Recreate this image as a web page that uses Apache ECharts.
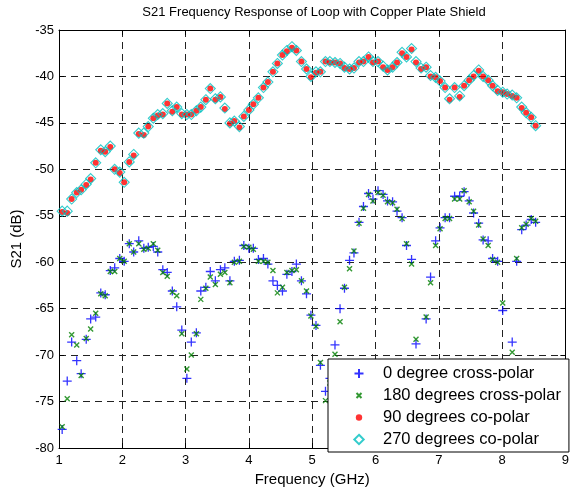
<!DOCTYPE html>
<html>
<head>
<meta charset="utf-8">
<script src="https://cdn.jsdelivr.net/npm/echarts@6/dist/echarts.min.js"></script>
<style>
html,body{margin:0;padding:0;background:#fff;}
#chart{width:572px;height:492px;}
</style>
</head>
<body>
<div id="chart"></div>
<script>
const freqGHz = [
1.05,1.13,1.20,1.28,1.35,1.43,1.50,1.58,1.66,1.73,
1.81,1.88,1.96,2.03,2.11,2.18,2.26,2.34,2.41,2.49,
2.56,2.64,2.71,2.79,2.86,2.94,3.02,3.09,3.17,3.24,
3.32,3.39,3.47,3.55,3.62,3.70,3.77,3.85,3.92,4.00,
4.07,4.15,4.23,4.30,4.38,4.45,4.53,4.60,4.68,4.75,
4.83,4.91,4.98,5.06,5.13,5.21,5.28,5.36,5.44,5.51,
5.59,5.66,5.74,5.81,5.89,5.96,6.04,6.12,6.19,6.27,
6.34,6.42,6.49,6.57,6.64,6.72,6.80,6.87,6.95,7.02,
7.10,7.17,7.25,7.33,7.40,7.48,7.55,7.63,7.70,7.78,
7.85,7.93,8.01,8.08,8.16,8.23,8.31,8.38,8.46,8.53
];
const cross0deg = [
-78.0,-72.8,-68.6,-70.6,-72.0,-68.3,-66.1,-65.9,-63.3,-63.5,
-60.9,-60.6,-59.6,-59.9,-58.0,-58.9,-57.7,-58.5,-58.4,-58.3,
-58.9,-60.8,-61.1,-63.1,-64.8,-67.3,-72.5,-68.6,-67.6,-63.1,
-62.7,-61.0,-62.0,-60.8,-60.6,-62.0,-59.9,-59.8,-58.2,-58.5,
-58.5,-59.7,-59.6,-60.2,-62.0,-62.5,-63.1,-61.3,-61.0,-60.2,
-62.0,-63.4,-65.7,-66.8,-71.1,-73.9,-72.5,-68.9,-65.0,-62.8,
-59.8,-59.0,-55.7,-54.0,-52.6,-53.2,-52.3,-52.7,-53.4,-53.5,
-54.5,-55.2,-58.2,-59.7,-68.8,-72.0,-66.1,-61.6,-57.7,-56.3,
-55.2,-55.2,-52.9,-52.9,-52.4,-53.4,-54.7,-55.8,-57.6,-57.7,
-59.6,-59.9,-65.2,-72.0,-68.6,-59.9,-56.5,-56.0,-55.4,-55.7
];
const cross180deg = [
-77.7,-74.7,-67.8,-68.9,-72.2,-68.2,-67.2,-65.5,-63.4,-63.6,
-61.0,-61.0,-59.6,-59.9,-58.0,-58.9,-58.0,-58.6,-58.5,-58.0,
-58.7,-61.1,-61.5,-63.2,-63.6,-67.7,-71.5,-70.0,-67.7,-64.0,
-62.8,-61.6,-62.4,-61.3,-61.1,-62.2,-60.0,-59.9,-58.3,-58.4,
-58.6,-59.9,-59.9,-60.0,-60.9,-63.3,-62.7,-61.1,-60.9,-60.8,
-62.0,-63.1,-65.8,-66.9,-70.8,-74.9,-73.0,-69.9,-66.4,-62.7,
-60.7,-58.8,-55.8,-54.2,-52.7,-53.4,-52.5,-52.8,-53.5,-53.6,
-54.3,-55.3,-58.0,-60.2,-68.3,-72.5,-65.9,-62.2,-58.2,-56.4,
-55.3,-55.3,-53.2,-53.2,-52.3,-53.5,-54.5,-56.0,-57.5,-58.2,
-59.7,-60.0,-64.4,-72.5,-69.7,-59.6,-56.3,-55.9,-55.3,-55.6
];
const co90deg = [
-54.6,-54.7,-53.2,-52.5,-52.2,-51.7,-51.1,-49.3,-48.0,-48.1,
-47.6,-50.0,-50.4,-51.4,-49.2,-48.5,-46.2,-46.3,-45.4,-44.5,
-44.2,-44.1,-42.9,-43.8,-43.3,-44.1,-44.1,-44.1,-43.7,-43.3,
-42.5,-41.3,-42.5,-42.2,-43.5,-45.1,-44.8,-45.5,-44.3,-43.6,
-43.0,-42.3,-41.2,-40.6,-39.5,-38.6,-37.7,-37.3,-36.9,-37.2,
-38.4,-39.2,-40.1,-39.6,-39.5,-38.4,-38.5,-38.5,-38.6,-39.1,
-39.2,-39.1,-38.5,-38.4,-37.9,-38.5,-38.4,-39.0,-39.3,-39.0,
-38.5,-37.5,-37.9,-37.1,-38.5,-39.2,-39.0,-40.0,-40.1,-40.5,
-41.2,-42.5,-41.2,-42.2,-41.0,-40.4,-40.0,-39.4,-40.0,-40.4,
-41.0,-41.6,-41.7,-41.9,-42.1,-42.3,-43.4,-43.9,-44.4,-45.3
];
const co270deg = [
-54.5,-54.5,-53.2,-52.5,-52.2,-51.6,-51.0,-49.3,-47.9,-48.1,
-47.5,-50.0,-50.3,-51.4,-49.2,-48.4,-46.1,-46.1,-45.4,-44.5,
-44.1,-44.0,-42.9,-43.7,-43.3,-44.0,-44.1,-44.1,-43.7,-43.3,
-42.5,-41.3,-42.4,-42.2,-43.4,-45.0,-44.8,-45.4,-44.3,-43.6,
-43.0,-42.3,-41.2,-40.6,-39.5,-38.6,-37.7,-37.2,-36.8,-37.2,
-38.4,-39.2,-40.0,-39.5,-39.5,-38.4,-38.4,-38.5,-38.6,-39.0,
-39.2,-39.1,-38.4,-38.4,-37.9,-38.4,-38.4,-38.9,-39.3,-39.0,
-38.5,-37.4,-37.9,-37.0,-38.4,-39.1,-39.0,-39.9,-40.1,-40.5,
-41.2,-42.4,-41.2,-42.1,-41.0,-40.4,-39.9,-39.3,-40.0,-40.4,
-41.0,-41.5,-41.7,-41.9,-42.0,-42.3,-43.3,-43.9,-44.4,-45.3
];
const seriesNames = ['0 degree cross-polar','180 degrees cross-polar','90 degrees co-polar','270 degrees co-polar'];

function pairs(ys){ return ys.map((y,i)=>[freqGHz[i], y]); }

const FONT = 'Liberation Sans, Arial, sans-serif';
const PLUS = 'path://M0 5L10 5M5 0L5 10';
const CROSS = 'path://M0 0L10 10M10 0L0 10';
// legend icons: padded inside a 10x10 box so they keep the small reference sizes
const LEG_PLUS = 'path://M0 0M10 10M0.5 5L9.5 5M5 0.5L5 9.5';
const LEG_CROSS = 'path://M0 0M10 10M2.5 2.5L7.5 7.5M7.5 2.5L2.5 7.5';
const LEG_DOT = 'path://M0 0M10 10M1.8 5A3.2 3.2 0 1 1 8.2 5A3.2 3.2 0 1 1 1.8 5Z';
const LEG_DIAMOND = 'path://M0 0M10 10M5 0.3L9.7 5L5 9.7L0.3 5Z';

const chart = echarts.init(document.getElementById('chart'), null, {renderer:'canvas'});
const axisCommon = {
  type:'value',
  axisLine:{show:true, onZero:false, lineStyle:{color:'#000', width:1}},
  axisTick:{show:true, inside:true, length:5, lineStyle:{color:'#000'}},
};
chart.setOption({
  animation:false,
  backgroundColor:'#fff',
  title:{text:'S21 Frequency Response of Loop with Copper Plate Shield', left:309, top:1, textAlign:'center',
    textStyle:{fontFamily:FONT, fontSize:13, fontWeight:'normal', color:'#000'}},
  grid:{left:59, right:5, top:30, bottom:44, containLabel:false},
  legend:{
    orient:'vertical', left:328, top:359,
    data:[
      {name:seriesNames[0], icon:LEG_PLUS},
      {name:seriesNames[1], icon:LEG_CROSS},
      {name:seriesNames[2], icon:LEG_DOT},
      {name:seriesNames[3], icon:LEG_DIAMOND}
    ],
    backgroundColor:'#fff', borderColor:'#000', borderWidth:1, borderRadius:0,
    padding:[6,8,4,25], itemGap:5, itemWidth:38, itemHeight:10,
    textStyle:{fontFamily:FONT, fontSize:16.5, color:'#000'},
    z:10
  },
  xAxis:[
    Object.assign({}, axisCommon, {min:1, max:9, interval:1, position:'bottom',
      axisLabel:{color:'#000', fontFamily:FONT, fontSize:13, margin:6},
      splitLine:{show:true, lineStyle:{color:'#222', width:1, type:[7,5]}},
      name:'Frequency (GHz)', nameLocation:'middle', nameGap:24,
      nameTextStyle:{fontFamily:FONT, fontSize:15, color:'#000'}}),
    Object.assign({}, axisCommon, {min:1, max:9, interval:1, position:'top',
      axisLabel:{show:false}, splitLine:{show:false}})
  ],
  yAxis:[
    Object.assign({}, axisCommon, {min:-80, max:-35, interval:5, position:'left',
      axisLabel:{color:'#000', fontFamily:FONT, fontSize:13, margin:5},
      splitLine:{show:true, lineStyle:{color:'#222', width:1, type:[7,5]}},
      name:'S21 (dB)', nameLocation:'middle', nameGap:35, nameRotate:90,
      nameTextStyle:{fontFamily:FONT, fontSize:15, color:'#000'}}),
    Object.assign({}, axisCommon, {min:-80, max:-35, interval:5, position:'right',
      axisLabel:{show:false}, splitLine:{show:false}})
  ],
  series:[
    {name:seriesNames[0], type:'scatter', data:pairs(cross0deg), symbol:PLUS, symbolSize:9,
      itemStyle:{color:'#0000ff', borderColor:'#0000ff', borderWidth:1.3}, z:2},
    {name:seriesNames[1], type:'scatter', data:pairs(cross180deg), symbol:CROSS, symbolSize:5,
      itemStyle:{color:'#008000', borderColor:'#008000', borderWidth:1.4}, z:3},
    {name:seriesNames[2], type:'scatter', data:pairs(co90deg), symbol:'circle', symbolSize:6,
      itemStyle:{color:'#ff0000', borderWidth:0}, z:4},
    {name:seriesNames[3], type:'scatter', data:pairs(co270deg), symbol:'diamond', symbolSize:10,
      itemStyle:{color:'rgba(0,0,0,0)', borderColor:'#00bfbf', borderWidth:1.1}, z:5}
  ]
});
</script>
</body>
</html>
